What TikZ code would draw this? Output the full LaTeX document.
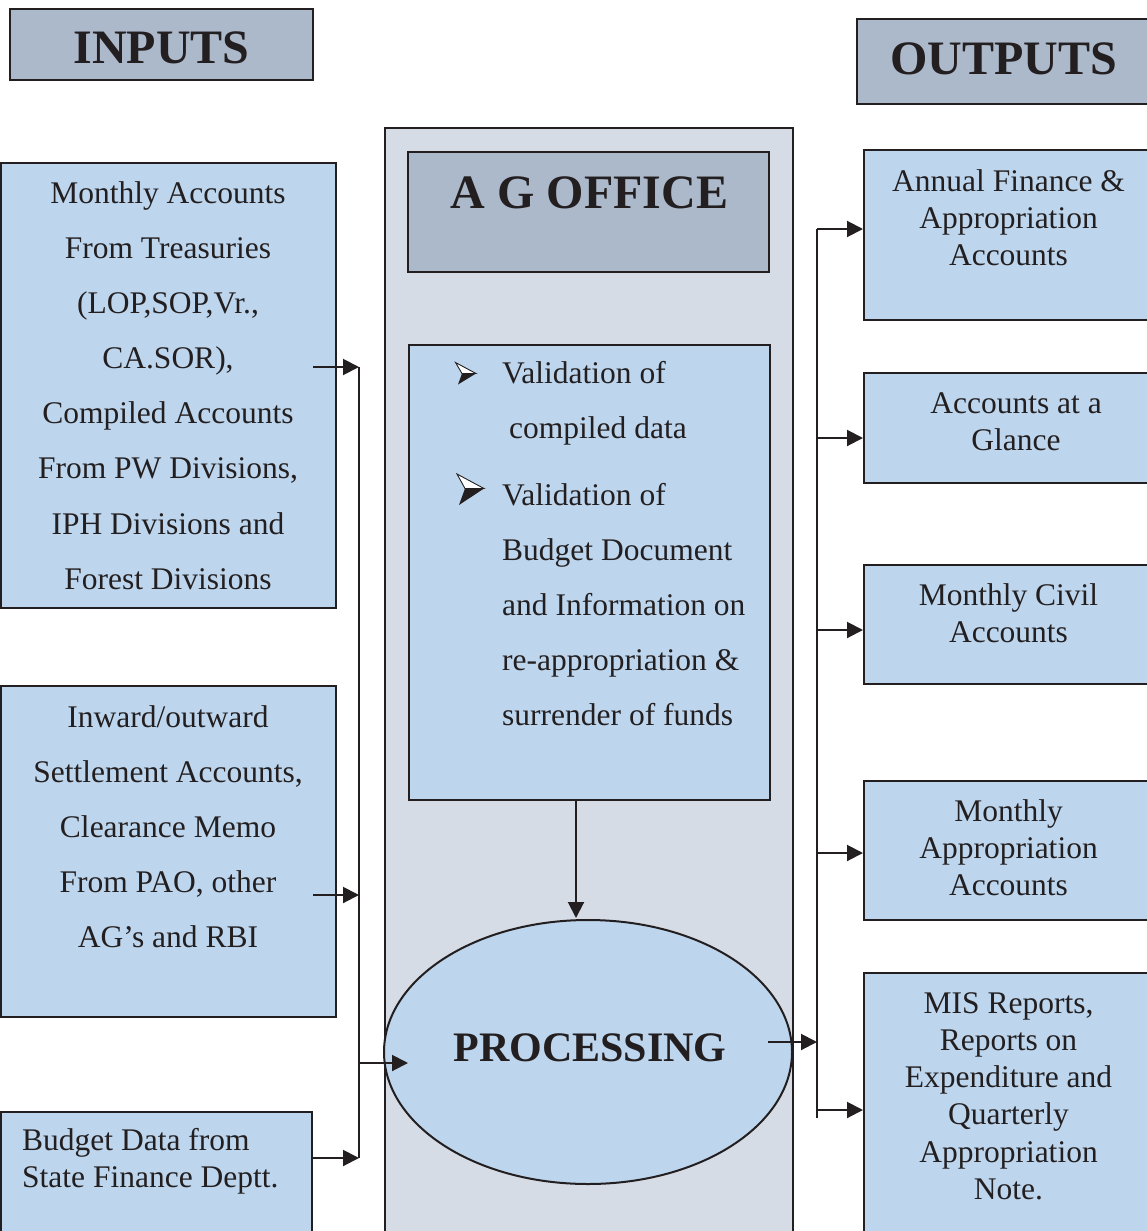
\documentclass[tikz,border=0pt]{standalone}
\usepackage{fontspec}
\setmainfont{Liberation Serif}
\usetikzlibrary{arrows.meta,shapes.geometric}
\definecolor{boxblue}{RGB}{189,214,238}
\definecolor{colgray}{RGB}{214,220,229}
\definecolor{headgray}{RGB}{172,185,203}
\definecolor{ink}{RGB}{35,31,32}
\begin{document}
\begin{tikzpicture}[x=1pt,y=-1pt,
  box/.style={draw=ink, line width=2pt, fill=boxblue, rectangle, inner sep=0pt},
  head/.style={draw=ink, line width=2pt, fill=headgray, rectangle, inner sep=0pt},
  body/.style={text=ink, inner sep=0pt, align=center, font=\fontsize{31.5}{55.1}\selectfont},
  rbody/.style={text=ink, inner sep=0pt, align=center, font=\fontsize{31.5}{37.2}\selectfont},
  title/.style={text=ink, inner sep=0pt, font=\fontsize{48}{50}\selectfont\bfseries},
  arr/.style={draw=ink, line width=2pt, -{Triangle[length=16pt,width=16pt]}},
  bus/.style={draw=ink, line width=2pt},
  bultop/.style={draw=ink, line width=0.9pt, fill=white, line join=miter},
  bulbot/.style={fill=ink}]
\useasboundingbox (0,0) rectangle (1146,1231);
% headers
\node[head, minimum width=303pt, minimum height=71pt] (inh) at (161.5,44.5) {};
\node[title] (inht) at (161.5,48) {INPUTS};
\node[head, minimum width=293pt, minimum height=85pt] (outh) at (1003.5,61.5) {};
\node[title] (outht) at (1003.5,59) {OUTPUTS};
% central column
\node[draw=ink, line width=2pt, fill=colgray, rectangle, inner sep=0pt, minimum width=408pt, minimum height=1112pt] (col) at (589,684) {};
\node[head, minimum width=361pt, minimum height=120pt] (ag) at (588.5,212) {};
\node[title] (agt) at (589.5,193) {A G OFFICE};
\node[box, minimum width=361pt, minimum height=455pt] (val) at (589.5,572.5) {};
% bullets
\draw[bultop] (455.5,362.5) -- (476,373.5) -- (462,373.5) -- cycle;
\fill[bulbot] (462,373.5) -- (476,373.5) -- (458,384.5) -- cycle;
\draw[bultop] (457,474) -- (484,488.5) -- (465,488.5) -- cycle;
\fill[bulbot] (465,488.5) -- (484,488.5) -- (459,505) -- cycle;
\node[body, align=left, anchor=west] (v1) at (502,403.5) {Validation of\\\hspace*{7pt}compiled data};
\node[body, align=left, anchor=west] (v2) at (502,604.5) {Validation of\\Budget Document\\and Information on\\re-appropriation \&\\surrender of funds};
\node[ellipse, draw=ink, line width=2pt, fill=boxblue, inner sep=0pt, minimum width=408pt, minimum height=264pt] (proc) at (588,1052) {};
\node[title, font=\fontsize{42}{44}\selectfont\bfseries] (proct) at (590,1048) {PROCESSING};
% input boxes
\node[box, minimum width=335pt, minimum height=445pt] (in1) at (168.5,385.5) {};
\node[body] (in1t) at (168,385.5) {Monthly Accounts\\From Treasuries\\(LOP,SOP,Vr.,\\CA.SOR),\\Compiled Accounts\\From PW Divisions,\\IPH Divisions and\\Forest Divisions};
\node[box, minimum width=335pt, minimum height=331pt] (in2) at (168.5,851.5) {};
\node[body] (in2t) at (168,826.5) {Inward/outward\\Settlement Accounts,\\Clearance Memo\\From PAO, other\\AG’s and RBI};
\node[box, minimum width=311pt, minimum height=128pt] (in3) at (156.5,1176) {};
\node[rbody, align=left, anchor=west] (in3t) at (22,1161.5) {Budget Data from\\State Finance Deptt.};
% output boxes
\node[box, minimum width=286pt, minimum height=170pt] (r1) at (1007,235) {};
\node[rbody] (r1t) at (1008.5,217.5) {Annual Finance \&\\Appropriation\\Accounts};
\node[box, minimum width=286pt, minimum height=110pt] (r2) at (1007,428) {};
\node[rbody] (r2t) at (1016,421.5) {Accounts at a\\Glance};
\node[box, minimum width=286pt, minimum height=119pt] (r3) at (1007,624.5) {};
\node[rbody] (r3t) at (1008.5,613.5) {Monthly Civil\\Accounts};
\node[box, minimum width=286pt, minimum height=139pt] (r4) at (1007,850.5) {};
\node[rbody] (r4t) at (1008.5,848) {Monthly\\Appropriation\\Accounts};
\node[box, minimum width=286pt, minimum height=267pt] (r5) at (1007,1106.5) {};
\node[rbody] (r5t) at (1008.5,1096) {MIS Reports,\\Reports on\\Expenditure and\\Quarterly\\Appropriation\\Note.};
% left bus
\coordinate (lb1) at (359,367);
\coordinate (lb2) at (359,895);
\coordinate (lb3) at (359,1158);
\coordinate (lbp) at (359,1063);
\coordinate (s1) at (313,367);
\coordinate (s2) at (313,895);
\coordinate (s3) at (313,1158);
\draw[bus] (lb1) -- (lb3);
\draw[arr] (s1) -- (lb1);
\draw[arr] (s2) -- (lb2);
\draw[arr] (s3) -- (lb3);
\draw[arr] (lbp) -- (408,1063);
% validation to processing
\draw[arr] ([xshift=-13.5pt]val.south) -- (576,918);
% right bus
\coordinate (rbt) at (817,229);
\coordinate (rbb) at (817,1118);
\coordinate (rbp) at (817,1042);
\draw[bus] (rbt) -- (rbb);
\draw[arr] (768,1042) -- (rbp);
\draw[arr] (rbt) -- (r1.west |- rbt);
\draw[arr] (817,438) -- (r2.west |- 0,438);
\draw[arr] (817,630) -- (r3.west |- 0,630);
\draw[arr] (817,853) -- (r4.west |- 0,853);
\draw[arr] (817,1110) -- (r5.west |- 0,1110);
\end{tikzpicture}
\end{document}
